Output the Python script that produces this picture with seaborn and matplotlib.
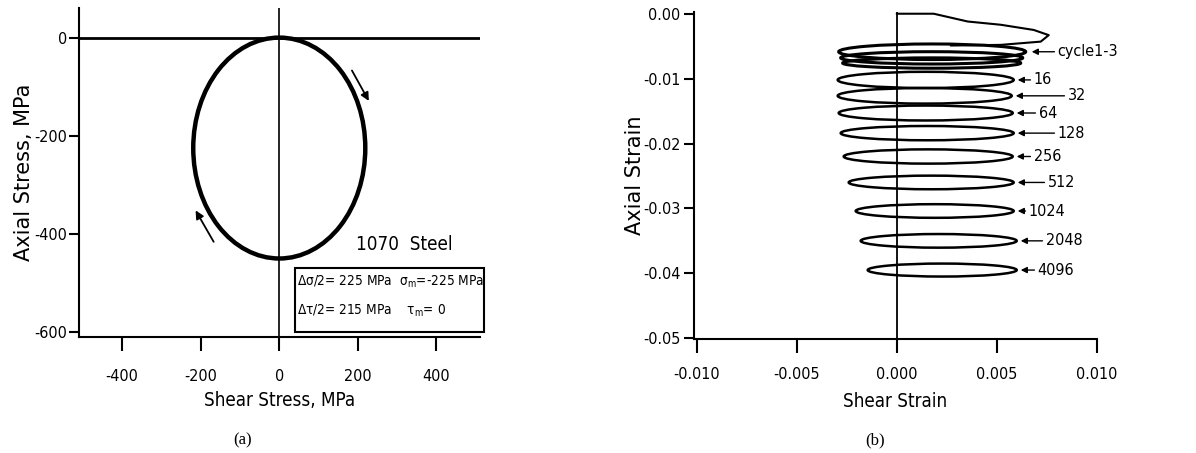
import matplotlib
matplotlib.use("Agg")
import matplotlib.pyplot as plt
from matplotlib.patches import Ellipse, Rectangle
import seaborn as sns
import pandas as pd

# ---------------- data ----------------
# (a) stress path: one elliptical loop
stress_center = [0.0, -225.0]          # shear, axial (MPa)
stress_halfwidth = 219.0                # shear half range
stress_halfheight = 225.0               # axial half range
arrow_a_start = [(185, -67), (-167, -416)]
arrow_a_end = [(228, -129), (-213, -352)]

# (b) strain path: first loading curve
load_shear = [0.0, 0.00185, 0.0027, 0.00355, 0.0052, 0.00685, 0.0076, 0.0072, 0.0052, 0.0027]
load_axial = [0.0, 0.0, -0.0006, -0.0012, -0.0017, -0.0025, -0.0033, -0.0043, -0.0048, -0.0049]

# (b) loops: cycles 1-3 (three overlapping) and labelled cycles
c13_ycenter = [-0.00586, -0.0068, -0.0076]
c13_xmin = [-0.0029, -0.0028, -0.0027]
c13_xmax = [0.00645, 0.0063, 0.0062]
c13_halfh = [0.00120, 0.00095, 0.00080]

cycles = ["16", "32", "64", "128", "256", "512", "1024", "2048", "4096"]
loop_ycenter = [-0.0102, -0.01265, -0.0153, -0.0184, -0.0220, -0.0260, -0.0304, -0.0350, -0.0395]
loop_xmin = [-0.00295, -0.00295, -0.0029, -0.0028, -0.00265, -0.0024, -0.00205, -0.0018, -0.00145]
loop_xmax = [0.00585, 0.00575, 0.0058, 0.00585, 0.0058, 0.00585, 0.00585, 0.0060, 0.0060]
loop_halfh = [0.00125, 0.00120, 0.00115, 0.00110, 0.00110, 0.00105, 0.00105, 0.00105, 0.00100]
label_text_x = [0.00685, 0.00855, 0.0071, 0.00805, 0.00685, 0.00755, 0.0066, 0.00745, 0.00705]

# ---------------- style ----------------
sns.set_theme(style="ticks")
plt.rcParams["font.family"] = ["DejaVu Sans"]
plt.rcParams["font.stretch"] = "condensed"
plt.rcParams["axes.unicode_minus"] = False
plt.rcParams["mathtext.fontset"] = "custom"
plt.rcParams["mathtext.rm"] = "DejaVu Sans:stretch=condensed"
plt.rcParams["mathtext.it"] = "DejaVu Sans:stretch=condensed"
for key in ["text.color", "axes.labelcolor", "xtick.color", "ytick.color", "axes.edgecolor"]:
    plt.rcParams[key] = "black"
plt.rcParams["axes.linewidth"] = 1.5
plt.rcParams["xtick.major.width"] = 1.5
plt.rcParams["ytick.major.width"] = 1.5

fig = plt.figure(figsize=(11.96, 4.53), dpi=100)
axa = fig.add_axes([0.066, 0.256, 0.335, 0.726])
axb = fig.add_axes([0.580, 0.252, 0.337, 0.722])

TICK = 11.5
for ax in (axa, axb):
    sns.despine(ax=ax)
    ax.tick_params(axis="x", length=10, direction="out", labelsize=TICK)
    ax.tick_params(axis="y", length=7.5, direction="out", labelsize=TICK, pad=1)

YLAB = dict(family="DejaVu Sans", stretch="normal")

# ---------------- panel (a) ----------------
axa.set_xlim(-510, 510)
axa.set_ylim(-610, 60)
axa.set_xticks([-400, -200, 0, 200, 400])
axa.set_yticks([0, -200, -400, -600])
axa.tick_params(axis="x", pad=13)
axa.axhline(0, color="black", lw=2.0)
axa.axvline(0, color="black", lw=1.2)
axa.add_patch(Ellipse((stress_center[0], stress_center[1]), 2 * stress_halfwidth,
                      2 * stress_halfheight, fill=False, ec="black", lw=3.2))
for s, e in zip(arrow_a_start, arrow_a_end):
    axa.annotate("", xy=e, xytext=s,
                 arrowprops=dict(arrowstyle="-|>", color="black", lw=1.3, mutation_scale=12,
                                 shrinkA=0, shrinkB=0))
axa.text(319, -422, "1070  Steel", fontsize=13.5, ha="center", va="center")
axa.add_patch(Rectangle((40, -600), 481, 131, fill=False, ec="black", lw=1.5, clip_on=False))
axa.text(46, -497, r"Δσ/2= 225 MPa  σ$_{\mathrm{m}}$=-225 MPa", fontsize=9.8, ha="left", va="center")
axa.text(46, -557, r"Δτ/2= 215 MPa    τ$_{\mathrm{m}}$= 0", fontsize=9.8, ha="left", va="center")
axa.set_xlabel("Shear Stress, MPa", fontsize=13.5)
axa.set_ylabel("Axial Stress, MPa", fontsize=15, **YLAB)
axa.xaxis.set_label_coords(0.5, -0.165)
axa.yaxis.set_label_coords(-0.112, 0.50)
fig.text(243 / 1196, 1 - 440 / 453, "(a)", family="Liberation Serif", fontsize=12,
         ha="center", va="center")

# ---------------- panel (b) ----------------
axb.set_xlim(-0.01015, 0.0100)
axb.set_ylim(-0.0501, 0.0003)
axb.set_xticks([-0.010, -0.005, 0.0, 0.005, 0.010])
axb.set_xticklabels(["-0.010", "-0.005", "0.000", "0.005", "0.010"])
axb.set_yticks([0.0, -0.01, -0.02, -0.03, -0.04, -0.05])
axb.set_yticklabels(["0.00", "-0.01", "-0.02", "-0.03", "-0.04", "-0.05"])
axb.tick_params(axis="x", pad=10.5)
axb.tick_params(axis="y", pad=2)
axb.axvline(0, color="black", lw=1.3)

load_df = pd.DataFrame({"shear": load_shear, "axial": load_axial})
sns.lineplot(data=load_df, x="shear", y="axial", sort=False, estimator=None,
             color="black", lw=1.5, ax=axb)

for yc, x0, x1, hh in zip(c13_ycenter, c13_xmin, c13_xmax, c13_halfh):
    axb.add_patch(Ellipse(((x0 + x1) / 2, yc), x1 - x0, 2 * hh, fill=False, ec="black", lw=2.2))
for yc, x0, x1, hh in zip(loop_ycenter, loop_xmin, loop_xmax, loop_halfh):
    axb.add_patch(Ellipse(((x0 + x1) / 2, yc), x1 - x0, 2 * hh, fill=False, ec="black", lw=1.8))

def label(ax, text, tip, tx):
    ax.annotate(text, xy=tip, xytext=(tx, tip[1]), fontsize=11.5, ha="left", va="center",
                arrowprops=dict(arrowstyle="-|>", color="black", lw=1.0, mutation_scale=9,
                                shrinkA=0, shrinkB=0), annotation_clip=False)

label(axb, "cycle1-3", (c13_xmax[0] + 0.0003, c13_ycenter[0]), 0.00805)
for name, yc, x1, tx in zip(cycles, loop_ycenter, loop_xmax, label_text_x):
    label(axb, name, (x1 + 0.0002, yc), tx)

axb.set_xlabel("Shear Strain", fontsize=13.5)
axb.set_ylabel("Axial Strain", fontsize=15, **YLAB)
axb.xaxis.set_label_coords(0.5, -0.162)
axb.yaxis.set_label_coords(-0.122, 0.50)
fig.text(875 / 1196, 1 - 440 / 453, "(b)", family="Liberation Serif", fontsize=12,
         ha="center", va="center")

fig.savefig("out.png", dpi=100)
